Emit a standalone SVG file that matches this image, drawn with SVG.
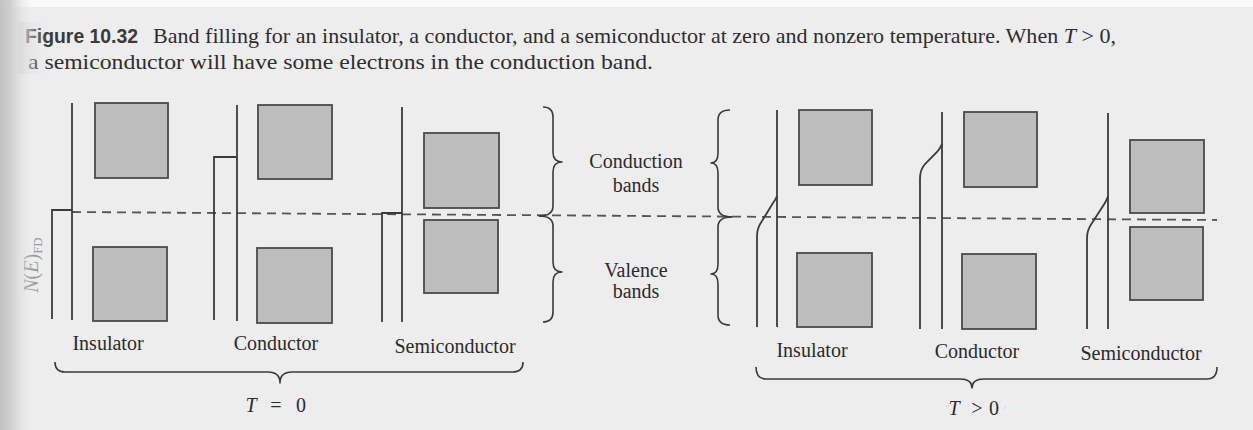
<svg xmlns="http://www.w3.org/2000/svg" width="1253" height="430" viewBox="0 0 1253 430">
  <defs>
    <linearGradient id="shadowL" x1="0" y1="0" x2="1" y2="0">
      <stop offset="0" stop-color="#c2c2c2" stop-opacity="1"/>
      <stop offset="0.3" stop-color="#c8c8c8" stop-opacity="0.85"/>
      <stop offset="1" stop-color="#ececec" stop-opacity="0"/>
    </linearGradient>
    <linearGradient id="fadeCap" x1="0" y1="0" x2="1" y2="0">
      <stop offset="0" stop-color="#d8d8d8" stop-opacity="0.75"/>
      <stop offset="1" stop-color="#e4e4e4" stop-opacity="0"/>
    </linearGradient>
    <style>
      .ln { stroke: #3a3a3a; stroke-width: 1.8; fill: none; stroke-linecap: butt; }
      .band { fill: #bdbdbd; stroke: #4a4a4a; stroke-width: 1.8; }
      .brace { stroke: #3a3a3a; stroke-width: 1.6; fill: none; stroke-linejoin: round; }
      .dash { stroke: #555; stroke-width: 1.8; stroke-dasharray: 9 6; fill: none; }
      .lbl { font-family: "Liberation Serif", "Times New Roman", serif; font-size: 20px; fill: #2b2b2b; }
      .cap { font-family: "Liberation Serif", "Times New Roman", serif; font-size: 22px; fill: #2e2e2e; }
      .capb { font-family: "Liberation Sans", Arial, sans-serif; font-size: 19.5px; font-weight: bold; fill: #3a3a3a; }
      .it { font-style: italic; }
    </style>
  </defs>

  <!-- page background -->
  <rect x="0" y="0" width="1253" height="430" fill="#ededed"/>
  <rect x="0" y="0" width="1253" height="7" fill="#fafafa"/>

  <!-- caption -->
  <g id="caption">
    <text class="capb" x="25" y="43" textLength="113" lengthAdjust="spacingAndGlyphs">Figure 10.32</text>
    <text class="cap" x="153" y="43" textLength="963" lengthAdjust="spacingAndGlyphs">Band filling for an insulator, a conductor, and a semiconductor at zero and nonzero temperature. When <tspan class="it">T</tspan> &gt; 0,</text>
    <text class="cap" x="28" y="69" textLength="625" lengthAdjust="spacingAndGlyphs">a semiconductor will have some electrons in the conduction band.</text>
  </g>

  <!-- Fermi level (dashed) and braces -->
  <g id="connectors">
    <line class="dash" x1="72" y1="212" x2="1217" y2="220"/>

    <!-- bottom braces -->
    <path class="brace" d="M55,362 Q55,372 65,372 L268,372 Q280,372 280,383 Q280,372 292,372 L513,372 Q523,372 523,362"/>
    <path class="brace" d="M756,367 Q756,379 766,379 L960,379 Q972,379 972,388 Q972,379 984,379 L1207,379 Q1217,379 1217,367"/>

    <!-- right-facing braces (T = 0 side) -->
    <path class="brace" d="M543,107 Q553,107 553,117 L553,152 Q553,162 562,162 Q553,162 553,172 L553,206 Q553,216 539,216"/>
    <path class="brace" d="M539,216 Q553,216 553,226 L553,262 Q553,272 562,272 Q553,272 553,282 L553,312 Q553,322 543,322"/>

    <!-- left-facing braces (T > 0 side) -->
    <path class="brace" d="M730,110 Q718,110 718,120 L718,153 Q718,163 711,163 Q718,163 718,173 L718,207 Q718,217 732,217"/>
    <path class="brace" d="M732,217 Q718,217 718,227 L718,264 Q718,274 711,274 Q718,274 718,284 L718,315 Q718,325 730,325"/>
  </g>

  <!-- N(E)FD axis label -->
  <text class="lbl" transform="translate(38,265) rotate(-90)" text-anchor="middle" style="fill:#9a9a9a"><tspan class="it">N</tspan>(<tspan class="it">E</tspan>)<tspan font-size="13" dy="4">FD</tspan></text>

  <!-- T = 0 panels -->
  <g id="insulator-t0">
    <polyline class="ln" points="52,319 52,210 72,210"/>
    <line class="ln" x1="72" y1="103" x2="72" y2="320"/>
    <rect class="band" x="95" y="103" width="73" height="75"/>
    <rect class="band" x="93" y="247" width="74" height="74"/>
    <text class="lbl" x="108" y="350" text-anchor="middle">Insulator</text>
  </g>
  <g id="conductor-t0">
    <polyline class="ln" points="214,320 214,157 237,157"/>
    <line class="ln" x1="237" y1="105" x2="237" y2="321"/>
    <rect class="band" x="258" y="105" width="74" height="74"/>
    <rect class="band" x="257" y="248" width="75" height="75"/>
    <text class="lbl" x="276" y="350" text-anchor="middle">Conductor</text>
  </g>
  <g id="semiconductor-t0">
    <polyline class="ln" points="382,322 382,213 402,213"/>
    <line class="ln" x1="402" y1="107" x2="402" y2="322"/>
    <rect class="band" x="424" y="133" width="75" height="75"/>
    <rect class="band" x="424" y="220" width="74" height="73"/>
    <text class="lbl" x="455" y="353" text-anchor="middle">Semiconductor</text>
  </g>
  <g id="t0-label">
    <text class="lbl" x="251" y="412" text-anchor="middle"><tspan class="it">T</tspan></text>
    <text class="lbl" x="276" y="412" text-anchor="middle">=</text>
    <text class="lbl" x="301" y="412" text-anchor="middle">0</text>
  </g>

  <!-- band labels -->
  <g id="band-labels">
    <text class="lbl" x="636" y="168" text-anchor="middle">Conduction</text>
    <text class="lbl" x="636" y="192" text-anchor="middle">bands</text>
    <text class="lbl" x="636" y="277" text-anchor="middle">Valence</text>
    <text class="lbl" x="636" y="298" text-anchor="middle">bands</text>
  </g>

  <!-- T > 0 panels -->
  <g id="insulator-t1">
    <path class="ln" d="M757,327 L757,236 Q757,228 762,221 L773,203 Q776,199 777,196"/>
    <line class="ln" x1="777" y1="110" x2="777" y2="327"/>
    <rect class="band" x="799" y="110" width="73" height="75"/>
    <rect class="band" x="797" y="253" width="75" height="74"/>
    <text class="lbl" x="812" y="357" text-anchor="middle">Insulator</text>
  </g>
  <g id="conductor-t1">
    <path class="ln" d="M920,329 L920,178 Q920,170 925,164 L937,152 Q941,147 942,144"/>
    <line class="ln" x1="942" y1="112" x2="942" y2="329"/>
    <rect class="band" x="964" y="112" width="73" height="75"/>
    <rect class="band" x="962" y="254" width="74" height="75"/>
    <text class="lbl" x="977" y="358" text-anchor="middle">Conductor</text>
  </g>
  <g id="semiconductor-t1">
    <path class="ln" d="M1087,329 L1087,238 Q1087,230 1092,223 L1103,206 Q1107,200 1108,196"/>
    <line class="ln" x1="1108" y1="113" x2="1108" y2="329"/>
    <rect class="band" x="1130" y="140" width="74" height="73"/>
    <rect class="band" x="1130" y="227" width="73" height="73"/>
    <text class="lbl" x="1141" y="360" text-anchor="middle">Semiconductor</text>
  </g>
  <g id="t1-label">
    <text class="lbl" x="954" y="415" text-anchor="middle"><tspan class="it">T</tspan></text>
    <text class="lbl" x="977" y="415" text-anchor="middle">&gt;</text>
    <text class="lbl" x="994" y="415" text-anchor="middle">0</text>
  </g>

  <!-- scan fading and shadow at the page edge -->
  <rect x="18" y="22" width="30" height="52" fill="url(#fadeCap)"/>
  <rect x="0" y="0" width="34" height="430" fill="url(#shadowL)"/>
</svg>
